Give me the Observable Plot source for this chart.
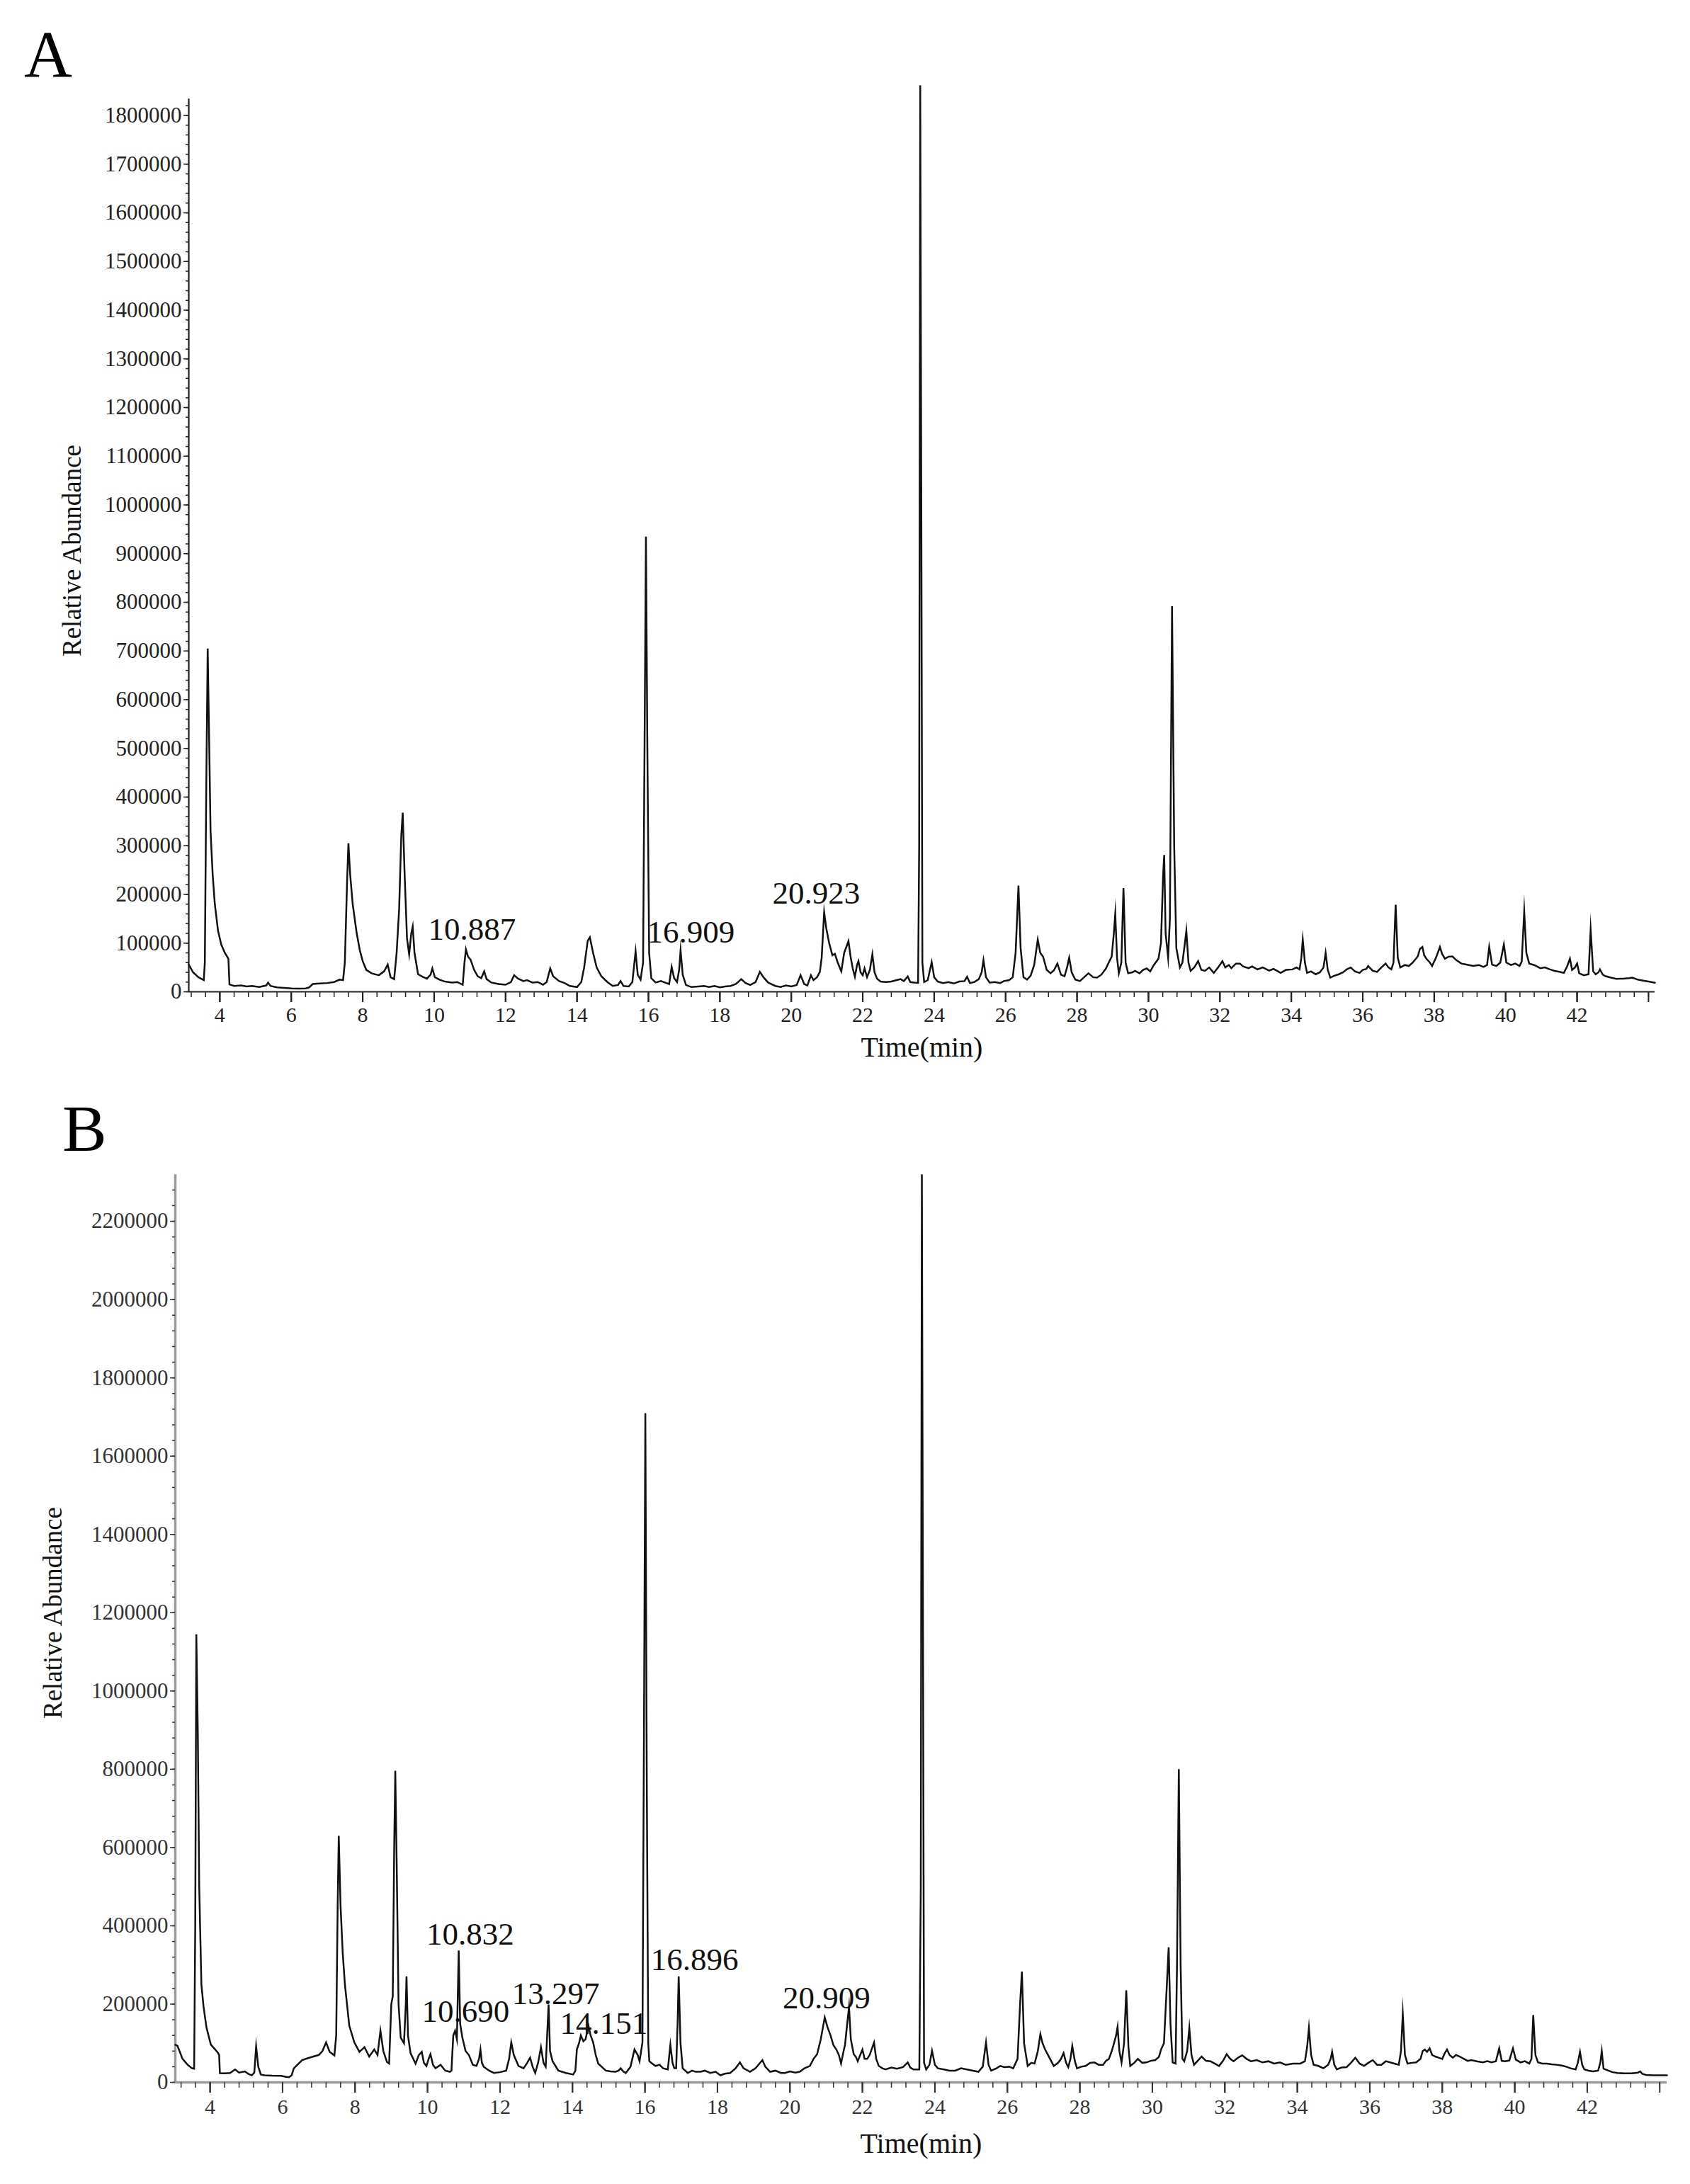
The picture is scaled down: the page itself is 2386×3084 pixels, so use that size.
<!DOCTYPE html>
<html><head><meta charset="utf-8">
<script src="https://cdn.jsdelivr.net/npm/d3@7"></script>
<script src="https://cdn.jsdelivr.net/npm/@observablehq/plot@0.6"></script>
<style>
html,body{margin:0;padding:0;background:#fff;}
#wrap{position:relative;width:2386px;height:3084px;overflow:hidden;font-family:"Liberation Serif","Times New Roman",serif;}
.plabel{position:absolute;font-size:94px;line-height:94px;color:#000;}
.plot{position:absolute;left:0;}
</style></head><body>
<div id="wrap">
  <div id="plotA" class="plot" style="top:0px"></div>
  <div id="plotB" class="plot" style="top:1560px"></div>
  <div class="plabel" style="left:34px;top:29px">A</div>
  <div class="plabel" style="left:88px;top:1546px">B</div>
</div>
<script>
// ---------- Panel A: chromatogram (time in min, relative abundance) ----------
const timeA = [3.13,3.25,3.40,3.55,3.58,3.62,3.66,3.70,3.74,3.80,3.86,3.95,4.04,4.14,4.24,4.27,4.40,4.60,4.75,4.90,5.10,5.30,5.35,5.42,5.60,5.80,6.00,6.20,6.40,6.50,6.60,6.80,7.00,7.20,7.35,7.45,7.50,7.56,7.60,7.65,7.72,7.83,7.92,8.00,8.10,8.25,8.45,8.60,8.70,8.78,8.88,8.95,9.02,9.08,9.12,9.17,9.24,9.30,9.36,9.40,9.45,9.55,9.70,9.80,9.90,9.95,10.02,10.15,10.30,10.50,10.65,10.80,10.85,10.89,10.95,11.02,11.12,11.22,11.32,11.40,11.47,11.60,11.80,12.00,12.15,12.24,12.35,12.50,12.60,12.75,12.90,13.05,13.15,13.25,13.33,13.50,13.65,13.80,14.00,14.12,14.20,14.30,14.36,14.45,14.55,14.68,14.85,15.00,15.15,15.22,15.30,15.45,15.55,15.64,15.70,15.78,15.85,15.90,15.93,15.97,16.02,16.08,16.20,16.35,16.50,16.58,16.65,16.72,16.80,16.86,16.90,16.96,17.05,17.20,17.40,17.55,17.70,17.85,18.00,18.15,18.30,18.45,18.60,18.72,18.85,19.00,19.12,19.22,19.35,19.55,19.70,19.85,20.00,20.15,20.26,20.36,20.45,20.55,20.62,20.72,20.80,20.85,20.92,20.98,21.06,21.15,21.22,21.30,21.40,21.48,21.56,21.60,21.66,21.72,21.78,21.84,21.88,21.94,22.00,22.05,22.12,22.20,22.27,22.33,22.40,22.50,22.65,22.80,22.95,23.06,23.15,23.26,23.33,23.45,23.55,23.58,23.61,23.64,23.67,23.72,23.82,23.93,24.00,24.10,24.25,24.40,24.55,24.70,24.85,24.92,25.00,25.12,25.25,25.33,25.38,25.45,25.55,25.70,25.85,25.95,26.10,26.20,26.28,26.36,26.42,26.50,26.60,26.70,26.80,26.90,26.97,27.05,27.15,27.26,27.35,27.45,27.55,27.65,27.72,27.78,27.85,27.95,28.08,28.20,28.32,28.45,28.56,28.68,28.81,28.92,28.97,29.03,29.07,29.12,29.17,29.24,29.30,29.36,29.43,29.55,29.62,29.75,29.85,29.95,30.05,30.15,30.28,30.35,30.41,30.44,30.48,30.55,30.60,30.66,30.72,30.78,30.88,30.95,31.02,31.06,31.12,31.18,31.28,31.39,31.48,31.58,31.70,31.83,31.95,32.07,32.15,32.25,32.32,32.45,32.56,32.65,32.80,32.90,33.05,33.20,33.38,33.50,33.60,33.70,33.85,34.03,34.15,34.23,34.28,34.32,34.38,34.44,34.55,34.68,34.80,34.90,34.96,35.02,35.09,35.20,35.33,35.45,35.55,35.66,35.78,35.91,36.00,36.10,36.15,36.28,36.40,36.52,36.64,36.72,36.80,36.86,36.92,36.98,37.05,37.18,37.29,37.40,37.54,37.60,37.67,37.72,37.78,37.88,37.94,38.05,38.16,38.22,38.30,38.40,38.51,38.62,38.76,38.90,39.09,39.25,39.38,39.48,39.54,39.62,39.74,39.85,39.95,40.02,40.15,40.27,40.39,40.45,40.52,40.58,40.66,40.80,40.97,41.10,41.24,41.37,41.50,41.63,41.72,41.80,41.86,41.94,42.00,42.06,42.19,42.32,42.38,42.45,42.52,42.60,42.64,42.72,42.80,42.95,43.10,43.30,43.45,43.55,43.70,43.85,44.00,44.18];
const abundA = [56000,40000,30000,24000,60000,420000,705000,520000,330000,240000,180000,125000,97000,80000,68000,15000,12000,13000,11000,12000,10000,13000,19000,12000,9000,8000,7000,6500,7000,9000,16000,17000,18000,20000,25000,24000,60000,220000,305000,240000,180000,121000,85000,63000,45000,38000,34000,42000,56000,30000,26000,80000,170000,320000,368000,250000,110000,77000,120000,134000,80000,36000,30000,27000,35000,48000,30000,25000,21000,19000,20000,14500,60000,87000,72000,66000,45000,32000,28000,42000,26000,19000,16000,14500,20000,34000,27000,22000,24000,19000,20000,14500,20000,48000,32000,22000,18000,12000,9700,20000,50000,105000,112000,80000,50000,32000,20000,12000,14000,22000,12000,11000,20000,83000,35000,25000,60000,600000,935000,500000,80000,28000,19000,22000,18000,16000,51000,28000,20000,45000,85000,35000,14000,9700,11000,12000,10000,12000,9000,11000,12000,16000,26000,18000,14000,20000,41000,30000,19000,12000,10000,13000,11000,14000,34000,16000,13000,34000,24000,30000,41000,70000,163000,130000,100000,75000,78000,60000,42000,80000,96000,104000,72000,48000,31000,55000,63000,40000,34000,48000,30000,45000,77000,40000,27000,21000,20000,21000,24000,26000,22000,31500,20000,19000,18400,300000,1862000,1000000,60000,20000,24000,61000,30000,21000,18000,20000,17000,21000,22000,31000,18000,20000,26000,40000,65000,30000,19000,20000,18000,22000,24000,30000,80000,218000,90000,30000,25000,33000,55000,107000,80000,72000,45000,38000,44000,58000,35000,32000,50000,70000,40000,25000,22000,30000,38000,30000,29000,35000,48000,65000,72000,120000,160000,70000,38000,60000,213000,60000,38000,40000,43000,38000,45000,48000,42000,55000,68000,100000,240000,281000,120000,70000,150000,792000,300000,90000,50000,60000,100000,125000,60000,43000,50000,63000,45000,43000,50000,38800,50000,63000,50000,55000,48500,58000,58000,52000,48500,52000,46000,50000,43600,47000,43000,38800,45000,46000,50000,46000,70000,107000,60000,38800,42000,36000,40000,50000,80000,45000,29000,33000,36000,40000,46000,50000,42000,38800,45000,47000,53000,43000,41000,50000,58000,50000,46000,60000,179000,70000,50000,55000,53000,60000,72700,88000,92000,75000,68000,60000,53000,70000,92000,78000,68000,72000,72700,65000,58000,56000,53000,55000,51000,55000,92000,56000,53000,60000,97000,60000,55000,58000,53000,62000,165000,80000,58000,55000,48500,50000,46000,43000,41000,38800,52000,68000,45000,50000,58000,38000,34000,36000,128000,42000,36000,40000,46000,35000,32000,29000,26600,27000,28000,29000,25000,23000,21000,18500];

// ---------- Panel B ----------
const timeB = [3.04,3.10,3.24,3.38,3.50,3.56,3.59,3.62,3.66,3.70,3.76,3.82,3.90,4.02,4.14,4.22,4.25,4.27,4.40,4.55,4.69,4.80,4.96,5.05,5.15,5.22,5.27,5.33,5.40,5.50,5.70,5.96,6.10,6.18,6.25,6.31,6.42,6.54,6.70,6.85,7.00,7.10,7.20,7.30,7.43,7.48,7.52,7.55,7.60,7.66,7.72,7.84,7.98,8.12,8.26,8.39,8.53,8.62,8.70,8.78,8.88,8.94,9.00,9.04,9.08,9.11,9.15,9.20,9.26,9.35,9.40,9.42,9.46,9.53,9.67,9.76,9.84,9.90,9.97,10.03,10.08,10.15,10.22,10.36,10.49,10.62,10.66,10.71,10.76,10.81,10.86,10.90,10.96,11.05,11.14,11.25,11.35,11.42,11.46,11.50,11.55,11.70,11.83,12.00,12.17,12.25,12.31,12.38,12.51,12.65,12.75,12.83,12.90,12.97,13.05,13.13,13.20,13.26,13.30,13.34,13.38,13.45,13.61,13.82,14.02,14.08,14.12,14.18,14.23,14.30,14.36,14.44,14.50,14.57,14.64,14.71,14.92,15.05,15.19,15.27,15.33,15.40,15.47,15.60,15.71,15.80,15.85,15.93,15.97,16.01,16.05,16.09,16.12,16.20,16.29,16.40,16.50,16.63,16.70,16.76,16.81,16.86,16.90,16.93,16.98,17.04,17.18,17.30,17.40,17.53,17.65,17.80,17.95,18.08,18.20,18.35,18.50,18.62,18.72,18.90,19.05,19.24,19.32,19.45,19.60,19.75,19.86,20.00,20.15,20.27,20.40,20.55,20.65,20.75,20.85,20.96,21.04,21.12,21.20,21.28,21.35,21.41,21.48,21.52,21.58,21.63,21.68,21.76,21.82,21.87,22.00,22.06,22.13,22.20,22.32,22.38,22.45,22.55,22.64,22.80,22.95,23.12,23.25,23.32,23.41,23.57,23.61,23.64,23.67,23.70,23.76,23.85,23.92,24.00,24.08,24.25,24.40,24.56,24.72,24.88,25.05,25.20,25.32,25.41,25.48,25.55,25.70,25.80,25.92,26.05,26.16,26.28,26.35,26.40,26.46,26.56,26.66,26.75,26.84,26.91,26.97,27.04,27.15,27.28,27.40,27.48,27.55,27.62,27.68,27.74,27.79,27.86,27.92,28.04,28.16,28.28,28.40,28.52,28.64,28.72,28.80,28.88,28.93,29.00,29.04,29.09,29.15,29.22,29.28,29.34,29.39,29.50,29.60,29.72,29.84,29.95,30.08,30.18,30.24,30.32,30.40,30.45,30.50,30.56,30.64,30.68,30.73,30.78,30.83,30.88,30.96,31.02,31.08,31.15,31.25,31.36,31.48,31.60,31.72,31.84,31.95,32.05,32.15,32.24,32.36,32.48,32.60,32.72,32.88,33.04,33.20,33.36,33.52,33.68,33.88,34.08,34.21,34.27,34.32,34.38,34.45,34.58,34.72,34.85,34.92,34.96,35.02,35.09,35.22,35.36,35.48,35.60,35.72,35.84,35.96,36.08,36.20,36.32,36.44,36.56,36.68,36.80,36.86,36.91,36.97,37.04,37.16,37.28,37.40,37.46,37.52,37.58,37.65,37.72,37.81,37.90,38.00,38.07,38.13,38.20,38.29,38.38,38.48,38.60,38.70,38.80,38.95,39.12,39.24,39.36,39.48,39.57,39.64,39.73,39.85,39.95,40.03,40.16,40.28,40.40,40.46,40.51,40.57,40.64,40.76,40.88,41.02,41.15,41.30,41.42,41.54,41.68,41.74,41.80,41.86,41.92,42.04,42.16,42.30,42.36,42.40,42.45,42.58,42.70,42.84,43.00,43.23,43.40,43.46,43.52,43.62,43.80,44.00,44.20];
const abundB = [96000,93500,60000,45000,36000,35000,400000,1145000,900000,500000,250000,193000,140000,96500,84000,75000,70000,23500,23000,24000,33000,25000,28000,22000,18000,25000,92000,40000,20000,18000,17000,16800,14000,13000,18000,36000,46000,57000,62000,66000,70000,80000,102000,78000,69000,120000,450000,630000,450000,330000,250000,145000,102000,78000,90000,66000,84000,70000,132000,80000,52000,48000,200000,220000,600000,796000,550000,200000,114000,100000,200000,271000,120000,75000,48000,70000,78000,50000,42000,60000,72000,45000,36000,45000,30000,27000,30000,120000,132000,110000,337000,150000,115000,80000,70000,45000,42000,60000,84000,50000,40000,30000,24000,26000,30000,60000,102000,70000,42000,36000,50000,63000,40000,24000,50000,90000,50000,40000,120000,199000,80000,54000,30000,24000,20000,30000,84000,100000,120000,105000,110000,145000,120000,102000,70000,48000,30000,28000,27000,30000,36000,28000,24000,40000,84000,70000,54000,102000,860000,1710000,760000,100000,54000,48000,42000,45000,36000,33000,96000,50000,36000,36000,150000,271000,100000,36000,24000,30000,27000,27000,30000,24000,27000,18000,22000,24000,36000,51000,36000,27000,36000,57000,40000,27000,30000,24000,24000,28000,25000,27000,36000,42000,60000,72000,110000,166000,140000,120000,95000,84000,70000,48000,80000,96000,150000,193000,110000,72000,65000,54000,84000,60000,60000,70000,102000,60000,42000,36000,33000,38000,35000,39000,51000,38000,33000,33000,500000,2320000,1200000,50000,33000,45000,81000,45000,36000,33000,30000,30000,36000,33000,30000,27000,40000,102000,45000,30000,36000,42000,39000,40000,36000,60000,200000,283000,100000,42000,50000,48000,80000,123000,100000,84000,65000,42000,50000,60000,75000,50000,39000,60000,93000,55000,36000,40000,42000,50000,51000,45000,45000,55000,60000,80000,96000,120000,142000,80000,51000,100000,235000,90000,42000,50000,60000,50000,51000,55000,57000,65000,84000,100000,250000,345000,150000,51000,48000,300000,800000,300000,60000,54000,80000,139000,70000,45000,55000,66000,55000,54000,48000,42000,55000,72000,60000,54000,63000,69000,60000,54000,57000,51000,54000,48000,51000,45000,48000,48000,54000,90000,139000,70000,45000,42000,36000,45000,60000,78000,45000,33000,38000,39000,50000,63000,48000,42000,50000,57000,45000,45000,54000,51000,48000,45000,80000,175000,70000,48000,50000,51000,60000,80000,84000,78000,87000,70000,66000,63000,60000,75000,84000,70000,63000,70000,66000,60000,55000,57000,54000,51000,54000,51000,54000,87000,55000,54000,56000,87000,58000,51000,54000,48000,60000,172000,70000,51000,48000,48000,46000,45000,43000,40000,36000,33000,50000,78000,45000,33000,30000,28000,30000,50000,80000,35000,30000,26000,24000,23000,23000,25000,28000,22000,19000,18000,18000,18000];

// ---------- Peak annotations (label, label centre time, label baseline abundance) ----------
const annoLabelA = ["10.887","16.909","20.923"];
const annoTimeA  = [11.06, 17.19, 20.70];
const annoAbundA = [107600, 101800, 181800];
const annoLabelB = ["10.832","10.690","13.297","14.151","16.896","20.909"];
const annoTimeB  = [11.18, 11.05, 13.54, 14.86, 17.37, 21.01];
const annoAbundB = [352800, 153800, 200800, 124800, 285900, 188200];

// ---------- Axis ticks ----------
const yTicksA = [0,100000,200000,300000,400000,500000,600000,700000,800000,900000,1000000,1100000,1200000,1300000,1400000,1500000,1600000,1700000,1800000];
const yTicksB = [0,200000,400000,600000,800000,1000000,1200000,1400000,1600000,1800000,2000000,2200000];
const xTickLabels = [4,6,8,10,12,14,16,18,20,22,24,26,28,30,32,34,36,38,40,42];
const xMajorTicks = [4,6,8,10,12,14,16,18,20,22,24,26,28,30,32,34,36,38,40,42,44];

const FONT = '"Liberation Serif","Times New Roman",serif';

function chromatogram(cfg) {
  const idx = d3.range(cfg.time.length);
  const aidx = d3.range(cfg.annoLabel.length);
  const xMinor = d3.range(3.2, 44.05, 0.4).map(v => +v.toFixed(1));
  const yMinor = d3.range(0, cfg.yAxisTop + 1, cfg.yMinorStep);
  return Plot.plot({
    width: 2386,
    height: cfg.height,
    marginLeft: cfg.marginLeft,
    marginRight: cfg.marginRight,
    marginTop: cfg.marginTop,
    marginBottom: cfg.marginBottom,
    x: {domain: cfg.xDomain},
    y: {domain: cfg.yDomain},
    style: {fontFamily: FONT, fontSize: "31px", color: cfg.tickColor, background: "white", overflow: "visible"},
    marks: [
      // axis lines
      Plot.ruleY([0], {x1: cfg.xDomain[0], x2: cfg.xDomain[1], stroke: cfg.axisColor, strokeWidth: cfg.axisWidth}),
      Plot.ruleX([cfg.xDomain[0]], {y1: 0, y2: cfg.yAxisTop, stroke: cfg.axisColor, strokeWidth: cfg.axisWidth}),
      // y axis
      Plot.axisY(yMinor, {tickSize: 4, tickFormat: () => "", label: null, strokeWidth: 1.5}),
      Plot.axisY(cfg.yTicks, {tickSize: 7, tickPadding: 3, tickFormat: d => String(d), fontSize: 31, fontFamily: FONT, label: null, strokeWidth: 1.5}),
      // x axis
      Plot.axisX(xMinor, {tickSize: 8, tickFormat: () => "", label: null, strokeWidth: 1.5}),
      Plot.axisX(xMajorTicks, {tickSize: 15, tickFormat: () => "", label: null, strokeWidth: 2}),
      Plot.axisX(xTickLabels, {tickSize: 15, tickPadding: cfg.xTickPadding, tickFormat: d => String(d), fontSize: 30, fontFamily: FONT, label: null, strokeWidth: 2}),
      // chromatogram trace
      Plot.line(idx, {x: i => cfg.time[i], y: i => cfg.abund[i], stroke: "#111", strokeWidth: 2.5, strokeLinejoin: "miter", strokeMiterlimit: 20}),
      // peak labels
      Plot.text(aidx, {x: i => cfg.annoTime[i], y: i => cfg.annoAbund[i], text: i => cfg.annoLabel[i],
        fontSize: 45, fontFamily: FONT, textAnchor: "middle", lineAnchor: "bottom", fill: "#111"}),
      // axis titles
      Plot.text(["Time(min)"], {frameAnchor: "bottom", dy: cfg.xTitleDy, fontSize: 40, fontFamily: FONT,
        textAnchor: "middle", lineAnchor: "middle", fill: "#111"}),
      Plot.text(["Relative Abundance"], {frameAnchor: "left", rotate: -90, dx: cfg.yTitleDx, dy: cfg.yTitleDy, fontSize: 37, fontFamily: FONT,
        textAnchor: "middle", lineAnchor: "middle", fill: "#111"})
    ]
  });
}

document.getElementById("plotA").append(chromatogram({
  time: timeA, abund: abundA,
  annoLabel: annoLabelA, annoTime: annoTimeA, annoAbund: annoAbundA,
  height: 1530, marginLeft: 266, marginRight: 50, marginTop: 110, marginBottom: 130,
  xDomain: [3.13, 44.18], yDomain: [0, 1876400], yAxisTop: 1834000,
  yTicks: yTicksA, yMinorStep: 20000,
  axisColor: "#222", axisWidth: 2.2, tickColor: "#222", xTickPadding: 6,
  xTitleDy: 79, yTitleDx: -164, yTitleDy: 22
}));

document.getElementById("plotB").append(chromatogram({
  time: timeB, abund: abundB,
  annoLabel: annoLabelB, annoTime: annoTimeB, annoAbund: annoAbundB,
  height: 1524, marginLeft: 247, marginRight: 33, marginTop: 90, marginBottom: 144,
  xDomain: [3.04, 44.2], yDomain: [0, 2334000], yAxisTop: 2319000,
  yTicks: yTicksB, yMinorStep: 40000,
  axisColor: "#9a9a9a", axisWidth: 3.5, tickColor: "#333", xTickPadding: 8,
  xTitleDy: 87, yTitleDx: -172, yTitleDy: -18
}));
</script>
</body></html>
